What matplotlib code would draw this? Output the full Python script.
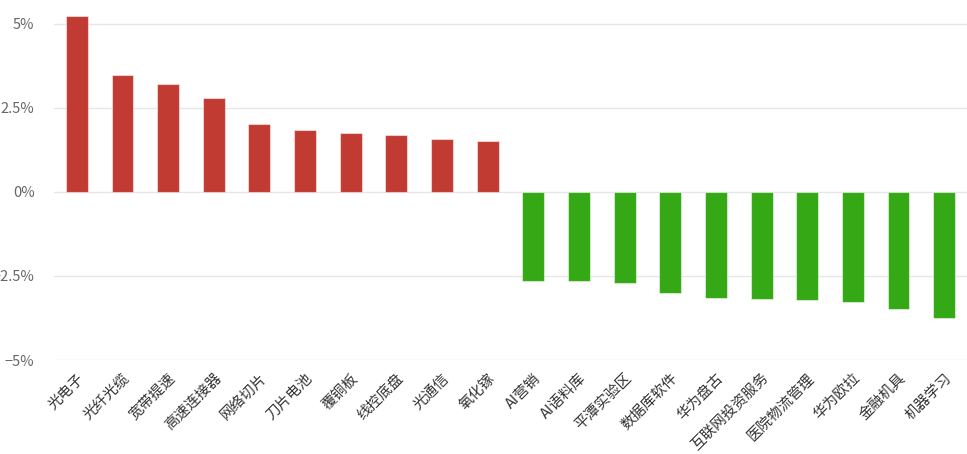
import matplotlib.pyplot as plt
from matplotlib.ticker import FuncFormatter

plt.rcParams['font.family'] = ['Noto Sans CJK SC', 'DejaVu Sans']

# ------------------------------
# Data (percent change)
# ------------------------------
names = ["光电子", "光纤光缆", "宽带提速", "高速连接器", "网络切片", "刀片电池", "覆铜板",
         "线控底盘", "光通信", "氧化镓", "AI营销", "AI语料库", "平潭实验区", "数据库软件",
         "华为盘古", "互联网投资服务", "医院物流管理", "华为欧拉", "金融机具", "机器学习"]
values = [5.24, 3.47, 3.22, 2.79, 2.02, 1.85, 1.76, 1.70, 1.58, 1.52,
          -2.64, -2.64, -2.72, -3.02, -3.15, -3.18, -3.22, -3.26, -3.47, -3.76]
yticks = [-5, -2.5, 0, 2.5, 5]

red = "#C23B33"
green = "#34A915"
colors = [red if v >= 0 else green for v in values]

# ------------------------------
# Plot
# ------------------------------
fig = plt.figure(figsize=(9.67, 4.54), dpi=100)
ax = fig.add_axes([54 / 967, 1 - 360 / 454, (967 - 54) / 967, (360 - 7) / 454])

x = range(len(names))
ax.bar(x, values, width=0.48, color=colors, edgecolor=(1, 1, 1, 0.5), linewidth=0.8, zorder=3)

ax.set_xlim(-0.5, len(names) - 0.5)
ax.set_ylim(-5, 5.5)
ax.set_yticks(yticks)


def pct(v, pos):
    s = f"{v:g}%"
    return s.replace("-", "\u2212")


ax.yaxis.set_major_formatter(FuncFormatter(pct))
ax.grid(axis="y", color="#E6E6E6", linewidth=1, zorder=0)

for side in ["top", "right", "left", "bottom"]:
    ax.spines[side].set_visible(False)

ax.set_xticks(list(x))
ax.set_xticklabels(names, rotation=45, ha="right", rotation_mode="anchor",
                   fontsize=10.5, color="#333333")
ax.tick_params(axis="x", length=0, pad=8)
ax.tick_params(axis="y", length=0, pad=14, labelsize=10.5, labelcolor="#666666")

fig.savefig("out.png", dpi=100)
